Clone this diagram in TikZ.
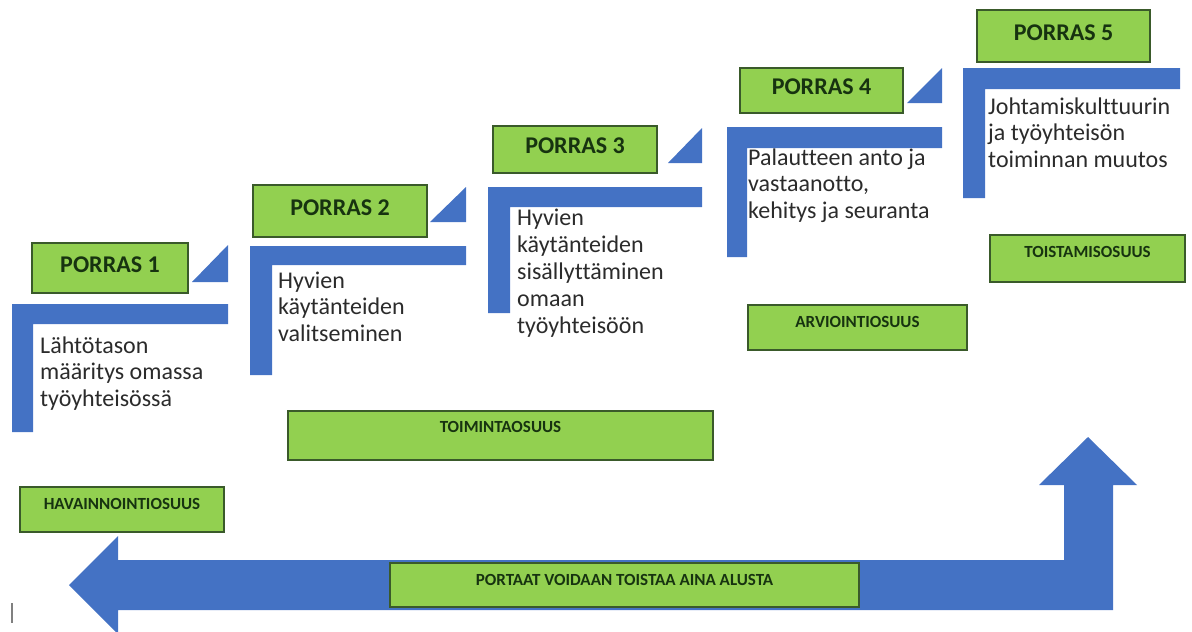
\documentclass[tikz,border=0pt]{standalone}
\usepackage{fontspec}
\setmainfont{Carlito}[Ligatures=NoCommon]
\usetikzlibrary{calc}

\definecolor{stepblue}{HTML}{4472C4}
\definecolor{boxgreen}{HTML}{92D050}
\definecolor{boxedge}{HTML}{3A5A2A}
\definecolor{labelink}{HTML}{173310}
\definecolor{bodyink}{HTML}{2B2B2B}

\tikzset{
  greenbox/.style={draw=boxedge, fill=boxgreen, line width=1.6pt, inner sep=0pt},
  stairbar/.style={fill=stepblue, draw=none},
  stepname/.style={font=\bfseries\fontsize{24}{26}\selectfont, text=labelink, inner sep=0pt},
  phasename/.style={font=\bfseries\fontsize{17}{19}\selectfont, text=labelink, inner sep=0pt},
  % multi-line text: the base anchor sits on the last line
  steptext/.style={font=\fontsize{24}{26.5}\selectfont, text=bodyink, align=left, inner sep=0pt, anchor=base west},
}

% a green box given by its corners
\newcommand{\gbox}[5]{%
  \node[greenbox, minimum width={(#4)-(#2)}, minimum height={(#5)-(#3)}] (#1) at ({((#2)+(#4))/2},{((#3)+(#5))/2}) {};}

\begin{document}
\begin{tikzpicture}[x=1pt, y=-1pt]
\useasboundingbox (0,0) rectangle (1192,632);
\clip (0,0) rectangle (1192,632);

% ---- return arrow along the bottom ----
\path[stairbar] (69,585) -- (118,536) -- (118,560) -- (1064,560) -- (1064,485)
  -- (1039,485) -- (1088,437) -- (1137,485) -- (1113,485) -- (1113,610)
  -- (118,610) -- (118,634) -- cycle;

% ---- stair treads (L-shapes) ----
\path[stairbar] (12,304) -- (228,304) -- (228,324) -- (33,324) -- (33,432) -- (12,432) -- cycle;
\path[stairbar] (250,246) -- (466,246) -- (466,265) -- (272,265) -- (272,375) -- (250,375) -- cycle;
\path[stairbar] (488,187) -- (702,187) -- (702,207) -- (510,207) -- (510,313) -- (488,313) -- cycle;
\path[stairbar] (727,127) -- (942,127) -- (942,148) -- (747,148) -- (747,257) -- (727,257) -- cycle;
\path[stairbar] (963,68) -- (1180,68) -- (1180,89) -- (985,89) -- (985,198) -- (963,198) -- cycle;

% ---- small wedges between steps ----
\path[stairbar] (192,282) -- (228,245) -- (228,282) -- cycle;
\path[stairbar] (430,222) -- (466,187) -- (466,222) -- cycle;
\path[stairbar] (668,163) -- (702,128) -- (702,163) -- cycle;
\path[stairbar] (907,103) -- (942,68) -- (942,103) -- cycle;

% ---- step titles ----
\gbox{p1}{32}{243}{188}{293}
\gbox{p2}{253}{185}{427}{237}
\gbox{p3}{493}{126}{657}{173}
\gbox{p4}{740}{68}{903}{113}
\gbox{p5}{977}{10}{1150}{62}
\node[stepname, anchor=base] (p1t) at ($(p1.center)+(0,4)$) {PORRAS 1};
\node[stepname, anchor=base] (p2t) at ($(p2.center)+(0,4)$) {PORRAS 2};
\node[stepname, anchor=base] (p3t) at ($(p3.center)+(0,4)$) {PORRAS 3};
\node[stepname, anchor=base] (p4t) at ($(p4.center)+(0,4)$) {PORRAS 4};
\node[stepname, anchor=base] (p5t) at ($(p5.center)+(0,4)$) {PORRAS 5};

% ---- step descriptions ----
\node[steptext] (d1) at (40,406) {Lähtötason\\määritys omassa\\työyhteisössä};
\node[steptext] (d2) at (278,341) {Hyvien\\käytänteiden\\valitseminen};
\node[steptext, font=\fontsize{24}{27}\selectfont] (d3) at (517,333) {Hyvien\\käytänteiden\\sisällyttäminen\\omaan\\työyhteisöön};
\node[steptext] (d4) at (748,218) {Palautteen anto ja\\vastaanotto,\\kehitys ja seuranta};
\node[steptext] (d5) at (988,167) {Johtamiskulttuurin\\ja työyhteisön\\toiminnan muutos};

% ---- phase boxes ----
\gbox{hav}{20}{487}{224}{532}
\gbox{toi}{288}{411}{713}{460}
\gbox{arv}{748}{305}{967}{350}
\gbox{tois}{990}{235}{1185}{282}
\gbox{port}{390}{563}{859}{607}
\node[phasename, anchor=base] (havt) at ($(hav.north)+(0,23.5)$) {HAVAINNOINTIOSUUS};
\node[phasename, anchor=base] (toit) at ($(toi.north)+(0,22.5)$) {TOIMINTAOSUUS};
\node[phasename, anchor=base] (arvt) at ($(arv.north)+(0,23.5)$) {ARVIOINTIOSUUS};
\node[phasename, anchor=base] (toist) at ($(tois.north)+(0,23.5)$) {TOISTAMISOSUUS};
\node[phasename, anchor=base] (portt) at ($(port.north)+(0,23)$) {PORTAAT VOIDAAN TOISTAA AINA ALUSTA};

% ---- text cursor mark ----
\coordinate (cur1) at (12,603);
\coordinate (cur2) at (12,623);
\draw[gray, line width=1.4pt] (cur1) -- (cur2);
\end{tikzpicture}
\end{document}
